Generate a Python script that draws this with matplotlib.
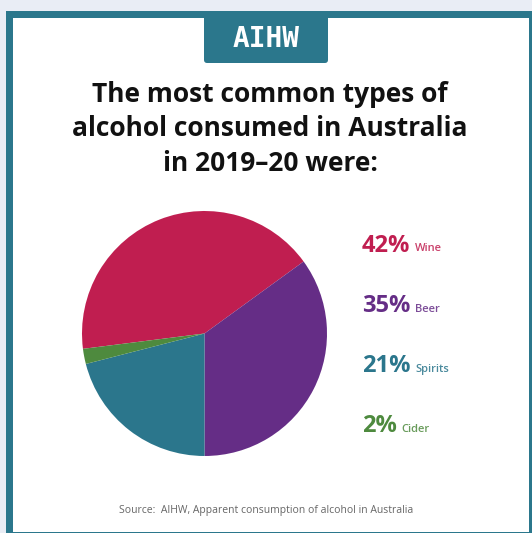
import matplotlib.pyplot as plt
from matplotlib.patches import Rectangle, FancyBboxPatch

# alcohol types and their share of consumption, 2019-20 (%)
types = ['Wine', 'Beer', 'Spirits', 'Cider']
shares = [42, 35, 21, 2]
colours = ['#C01E50', '#652D86', '#2B768C', '#4E8A3E']

title = 'The most common types of\nalcohol consumed in Australia\nin 2019\u201320 were:'
source = 'Source:  AIHW, Apparent consumption of alcohol in Australia'

W, H = 532, 533
fig = plt.figure(figsize=(W / 100, H / 100), dpi=100)
fig.patch.set_facecolor('#E9EDF5')


def px(x, y):
    # pixel position from the top-left corner -> figure fraction
    return x / W, 1 - y / H


def box(x0, y0, x1, y1, colour, **kw):
    fig.patches.append(Rectangle(px(x0, y1), (x1 - x0) / W, (y1 - y0) / H,
                                 transform=fig.transFigure, facecolor=colour,
                                 edgecolor='none', zorder=-2, **kw))


# teal frame and white card
box(6, 11, 540, 545, '#2B778C')
box(13, 18, 529, 532, 'white')

# header tab
tab = FancyBboxPatch(px(204, 63), 124 / W, 52 / H,
                     boxstyle='round,pad=0,rounding_size=0.006',
                     transform=fig.transFigure, facecolor='#2B778C',
                     edgecolor='none', zorder=-1)
fig.patches.append(tab)
fig.text(*px(266, 39), 'AIHW', ha='center', va='center', color='white',
         fontsize=20, fontweight='bold', family='DejaVu Sans Mono')

fig.text(*px(270, 129), title, ha='center', va='center', color='#111111',
         fontsize=19, fontweight='bold', family='Open Sans', linespacing=1.36)

# pie
cx, cy, r = 204.5, 333.5, 122.5
ax = fig.add_axes([(cx - r) / W, 1 - (cy + r) / H, 2 * r / W, 2 * r / H])
ax.pie(shares, colors=colours, startangle=180 + shares[-1] * 3.6,
       counterclock=False, wedgeprops=dict(linewidth=0))
ax.set_xlim(-1, 1)
ax.set_ylim(-1, 1)
ax.set_aspect('equal')
ax.axis('off')

# labels on the right
rows_y = [245.5, 306, 366.5, 426.5]
for name, val, col, y in zip(types, shares, colours, rows_y):
    t = fig.text(*px(362, y), f'{val}%', ha='left', va='center', color=col,
                 fontsize=17, fontweight='bold', family='Open Sans')
    fig.canvas.draw()
    bb = t.get_window_extent()
    fig.text((bb.x1 + 5) / W, 1 - (y + 3) / H, name, ha='left', va='center',
             color=col, alpha=0.85, fontsize=8, fontweight='semibold',
             family='Open Sans')

fig.text(*px(266, 511), source, ha='center', va='center', color='#666666',
         fontsize=7.5, family='Open Sans')

fig.savefig('out.png', dpi=100, facecolor=fig.get_facecolor())
